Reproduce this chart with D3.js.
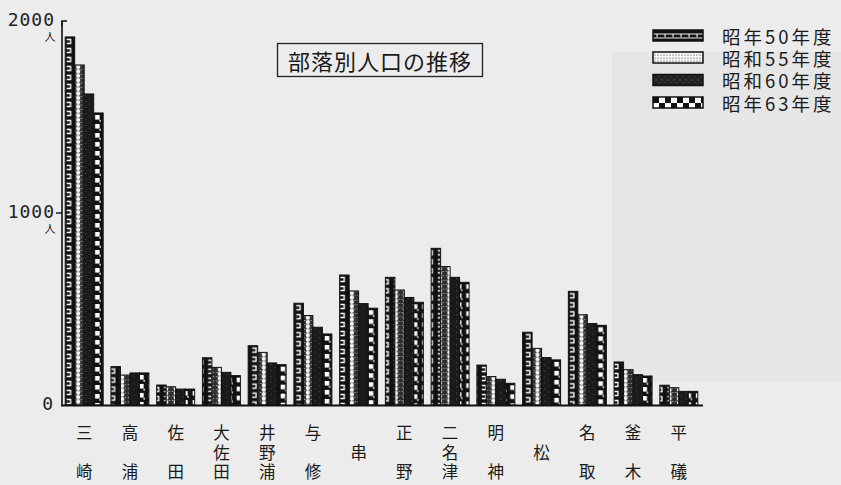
<!DOCTYPE html>
<html><head><meta charset="utf-8">
<script src="https://cdn.jsdelivr.net/npm/d3@7/dist/d3.min.js"></script>
<style>
html,body{margin:0;padding:0;background:#ececec;}
svg{display:block;}
</style></head>
<body>
<svg id="c" width="841" height="485"></svg>
<script>
const categories = ["三崎","高浦","佐田","大佐田","井野浦","与修","串","正野","二名津","明神","松","名取","釜木","平礒"];
const seriesNames = ["昭年50年度","昭和55年度","昭和60年度","昭年63年度"];
const s50 = [1917, 200, 104, 246, 309, 530, 677, 665, 816, 208, 379, 592, 224, 103];
const s55 = [1771, 156, 95, 196, 274, 466, 594, 599, 721, 148, 295, 470, 184, 90];
const s60 = [1620, 167, 83, 170, 219, 405, 528, 560, 665, 134, 247, 424, 158, 71];
const s63 = [1521, 167, 83, 153, 210, 370, 504, 535, 639, 113, 235, 415, 151, 71];
const seriesValues = [s50, s55, s60, s63];
const yTicks = [0, 1000, 2000];
const titleText = "部落別人口の推移";
const unitText = "人";

const svg = d3.select("#c");
const W = 841, H = 485;
svg.append("rect").attr("width", W).attr("height", H).attr("fill", "#ececec");
svg.append("rect").attr("x", 612).attr("y", 52).attr("width", 229).attr("height", 330).attr("fill", "#e6e6e6");

const x0 = d3.scaleBand().domain(categories).range([62, 701]).paddingInner(0.17).paddingOuter(0.07);
const x1 = d3.scaleBand().domain(d3.range(4)).range([0, x0.bandwidth()]).padding(0);
const y = d3.scaleLinear().domain([0, 2000]).range([405, 21]);
const bw = x1.bandwidth();

const defs = svg.append("defs");
const bars = [];
categories.forEach((c, i) => seriesValues.forEach((arr, j) => bars.push({c, i, j, v: arr[i]})));

const periods = [9, 4.4, 6, 9];
const pats = defs.selectAll("pattern.bp").data(bars).join("pattern")
  .attr("class", "bp")
  .attr("id", d => `p${d.i}_${d.j}`)
  .attr("patternUnits", "userSpaceOnUse")
  .attr("x", d => x0(d.c) + x1(d.j))
  .attr("y", d => y(d.v))
  .attr("width", bw)
  .attr("height", d => periods[d.j]);
pats.each(function(d) {
  const p = d3.select(this);
  const per = periods[d.j];
  if (d.j === 0) {
    p.append("rect").attr("width", bw).attr("height", per).attr("fill", "#111");
    p.append("path").attr("d", `M${bw*0.28},2.5H${bw*0.7}V6.5H${bw*0.28}`).attr("fill", "none").attr("stroke", "#fff").attr("stroke-width", 1.3);
  } else if (d.j === 1) {
    p.append("rect").attr("width", bw).attr("height", per).attr("fill", "#2e2e2e");
    p.append("circle").attr("cx", bw/2).attr("cy", per/2).attr("r", 2.1).attr("fill", "#f6f6f6");
    p.append("circle").attr("cx", 1.6).attr("cy", 0).attr("r", 0.9).attr("fill", "#bbb");
    p.append("circle").attr("cx", bw-1.6).attr("cy", 0).attr("r", 0.9).attr("fill", "#bbb");
  } else if (d.j === 2) {
    p.append("rect").attr("width", bw).attr("height", per).attr("fill", "#1a1a1a");
    p.append("circle").attr("cx", 2.5).attr("cy", 1.5).attr("r", 0.6).attr("fill", "#5a5a5a");
    p.append("circle").attr("cx", 6.5).attr("cy", 4.5).attr("r", 0.6).attr("fill", "#4a4a4a");
  } else {
    p.append("rect").attr("width", bw).attr("height", per).attr("fill", "#111");
    p.append("rect").attr("x", bw/2-2.1).attr("y", 2).attr("width", 4.6).attr("height", 4.6).attr("fill", "#fff");
    p.append("rect").attr("x", bw-2.4).attr("y", 6.8).attr("width", 1.2).attr("height", 2).attr("fill", "#fff");
  }
});

const lp0 = defs.append("pattern").attr("id", "L0").attr("patternUnits", "userSpaceOnUse").attr("width", 8).attr("height", 11).attr("x", 653).attr("y", 30);
lp0.append("rect").attr("width", 8).attr("height", 11).attr("fill", "#111");
lp0.append("path").attr("d", "M0,4H8M4,4V7M0,8H8").attr("stroke", "#f0f0f0").attr("stroke-width", 1.2);
const lp1 = defs.append("pattern").attr("id", "L1").attr("patternUnits", "userSpaceOnUse").attr("width", 3).attr("height", 3);
lp1.append("rect").attr("width", 3).attr("height", 3).attr("fill", "#f6f6f6");
lp1.append("circle").attr("cx", 1).attr("cy", 1).attr("r", 0.6).attr("fill", "#333");
const lp2 = defs.append("pattern").attr("id", "L2").attr("patternUnits", "userSpaceOnUse").attr("width", 6).attr("height", 6);
lp2.append("rect").attr("width", 6).attr("height", 6).attr("fill", "#222");
lp2.append("circle").attr("cx", 2).attr("cy", 2).attr("r", 0.7).attr("fill", "#666");
lp2.append("circle").attr("cx", 5).attr("cy", 4.5).attr("r", 0.6).attr("fill", "#555");
const lp3 = defs.append("pattern").attr("id", "L3").attr("patternUnits", "userSpaceOnUse").attr("width", 12).attr("height", 12).attr("x", 653).attr("y", 97);
lp3.append("rect").attr("width", 12).attr("height", 12).attr("fill", "#fff");
lp3.append("rect").attr("width", 6).attr("height", 6).attr("fill", "#111");
lp3.append("rect").attr("x", 6).attr("y", 6).attr("width", 6).attr("height", 6).attr("fill", "#111");

const g = svg.append("g");
const groups = g.selectAll("g.cat").data(categories).join("g").attr("class", "cat")
  .attr("transform", d => `translate(${x0(d)},0)`);
groups.selectAll("rect").data((c, i) => seriesValues.map((arr, j) => ({c, i, j, v: arr[i]})))
  .join("rect")
  .attr("x", d => x1(d.j))
  .attr("y", d => y(d.v))
  .attr("width", bw)
  .attr("height", d => y(0) - y(d.v))
  .attr("fill", d => `url(#p${d.i}_${d.j})`)
  .attr("stroke", "#111").attr("stroke-width", 1);

svg.append("line").attr("x1", 62).attr("x2", 62).attr("y1", y(2000)).attr("y2", y(0)).attr("stroke", "#111").attr("stroke-width", 1.6);
svg.append("line").attr("x1", 61).attr("x2", 703).attr("y1", y(0)+0.5).attr("y2", y(0)+0.5).attr("stroke", "#111").attr("stroke-width", 1.8);
svg.append("path").attr("d", `M62,${y(2000)+5}V${y(2000)}H67`).attr("fill", "none").attr("stroke", "#111").attr("stroke-width", 1.4);
svg.append("line").attr("x1", 56).attr("x2", 62).attr("y1", y(1000)).attr("y2", y(1000)).attr("stroke", "#111").attr("stroke-width", 1.4);

const yl = svg.append("g");
yTicks.forEach(t => {
  const yy = y(t);
  yl.append("text").attr("x", t === 0 ? 54 : 55).attr("y", yy + 5).attr("text-anchor", "end")
    .attr("font-family", "DejaVu Sans Mono").attr("font-size", 18).attr("letter-spacing", 1)
    .attr("fill", "#222").text(String(t));
  if (t > 0) {
    yl.append("text").attr("x", 50).attr("y", yy + 20).attr("text-anchor", "middle")
      .attr("font-family", "Noto Sans CJK JP").attr("font-size", 11).attr("fill", "#222").text(unitText);
  }
});

const rowY = [432, 452, 471];
categories.forEach(c => {
  const chars = Array.from(c);
  let rows;
  if (chars.length === 1) rows = [1];
  else if (chars.length === 2) rows = [0, 2];
  else rows = [0, 1, 2];
  const cx = x0(c) + x0.bandwidth() / 2;
  chars.forEach((ch, k) => {
    svg.append("text").attr("x", cx).attr("y", rowY[rows[k]]).attr("text-anchor", "middle")
      .attr("dominant-baseline", "central")
      .attr("font-family", "Noto Sans CJK JP").attr("font-size", 16.5).attr("fill", "#1a1a1a").text(ch);
  });
});

svg.append("rect").attr("x", 277.5).attr("y", 43.5).attr("width", 205).attr("height", 33)
  .attr("fill", "none").attr("stroke", "#222").attr("stroke-width", 1.3);
svg.append("text").attr("x", 380).attr("y", 60).attr("text-anchor", "middle").attr("dominant-baseline", "central")
  .attr("font-family", "Noto Sans CJK JP").attr("font-size", 22).attr("letter-spacing", 1).attr("fill", "#1a1a1a").text(titleText);

const legY = [35.5, 57.5, 80, 102.5];
seriesNames.forEach((name, j) => {
  svg.append("rect").attr("x", 653).attr("y", legY[j] - 5.5).attr("width", 50).attr("height", 11)
    .attr("fill", `url(#L${j})`).attr("stroke", "#111").attr("stroke-width", 1.5);
  svg.append("text").attr("x", 722).attr("y", legY[j]).attr("dominant-baseline", "central")
    .attr("font-family", "Noto Sans CJK JP").attr("font-size", 18.5).attr("letter-spacing", 3)
    .attr("fill", "#1a1a1a").text(name);
});
</script>
</body></html>
